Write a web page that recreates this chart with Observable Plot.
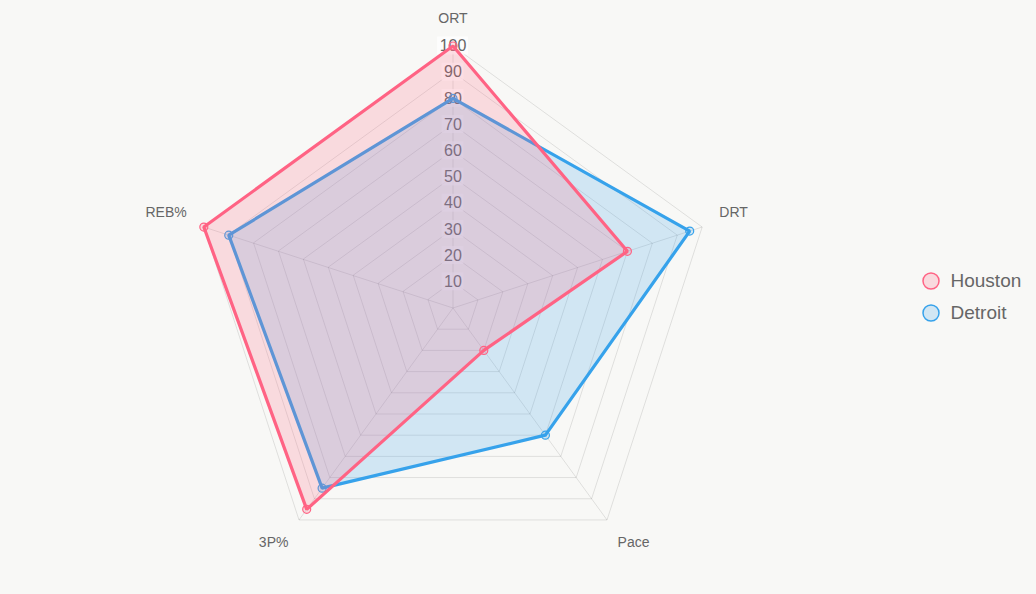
<!DOCTYPE html>
<html>
<head>
<meta charset="utf-8">
<script src="https://cdn.jsdelivr.net/npm/d3@7"></script>
<script src="https://cdn.jsdelivr.net/npm/@observablehq/plot@0.6"></script>
<style>
  html, body { margin: 0; padding: 0; background: #f8f8f6; }
  #chart svg { display: block; background: #f8f8f6; }
</style>
</head>
<body>
<div id="chart"></div>
<script>
const categories = ["ORT", "DRT", "Pace", "3P%", "REB%"];
const houston = [100, 70, 20, 95, 100];
const detroit = [80, 95, 60, 85, 90];
const tickValues = [10, 20, 30, 40, 50, 60, 70, 80, 90, 100];
const seriesNames = ["Houston", "Detroit"];

const W = 1036, H = 594;
const cx = 452.5, cy = 307.5;
const k = 2.62; // px per unit
const n = categories.length;
const ang = i => Math.PI / 2 - i * 2 * Math.PI / n;
const px = x => (x - cx) / k;
const py = y => (cy - y) / k;

const colors = {Houston: "rgb(255,99,132)", Detroit: "rgb(54,162,235)"};
const fills = {Houston: "rgba(255,99,132,0.2)", Detroit: "rgba(54,162,235,0.2)"};

// grid rings
const rings = [];
tickValues.forEach(t => categories.forEach((c, i) => rings.push({t, x: t * Math.cos(ang(i)), y: t * Math.sin(ang(i))})));
const spokes = categories.map((c, i) => ({c, x: 100 * Math.cos(ang(i)), y: 100 * Math.sin(ang(i))}));

const series = seriesNames.map(name => {
  const vals = name === "Houston" ? houston : detroit;
  return {name, pts: categories.map((c, i) => ({name, c, v: vals[i], x: vals[i] * Math.cos(ang(i)), y: vals[i] * Math.sin(ang(i))}))};
});

const labR = 280 / k;
const catLabels = categories.map((c, i) => {
  const a = ang(i);
  const cs = Math.cos(a), sn = Math.sin(a);
  return {c, x: labR * cs, y: labR * sn,
    anchor: Math.abs(cs) < 0.01 ? "middle" : (cs > 0 ? "start" : "end"),
    dy: sn > 0 ? -9 : 8};
});

const tickBox = tickValues.map(t => {
  const w = (String(t).length * 8.9 + 4) / 2 / k;
  return {t, x1: -w, x2: w, y1: t - 9 / k, y2: t + 9 / k};
});

const marks = [
  Plot.line(rings, {x: "x", y: "y", z: "t", curve: "linear-closed", stroke: "#000", strokeOpacity: 0.1, strokeWidth: 1}),
  Plot.link(spokes, {x1: 0, y1: 0, x2: "x", y2: "y", stroke: "#000", strokeOpacity: 0.1, strokeWidth: 1}),
  Plot.rect(tickBox, {x1: "x1", x2: "x2", y1: "y1", y2: "y2", fill: "rgba(255,255,255,0.75)"}),
  Plot.text(tickValues, {x: 0, y: d => d, text: d => String(d), fill: "#666", fontSize: 16, lineAnchor: "middle"})
];

for (const an of ["start", "middle", "end"]) {
  for (const dy of [-9, 8]) {
    const sub = catLabels.filter(d => d.anchor === an && d.dy === dy);
    if (sub.length) marks.push(Plot.text(sub, {x: "x", y: "y", text: "c", textAnchor: an, dy, fill: "#666", fontSize: 14, lineAnchor: "middle"}));
  }
}

// draw Detroit first, Houston on top
for (const name of ["Detroit", "Houston"]) {
  const s = series.find(d => d.name === name);
  marks.push(Plot.line(s.pts, {x: "x", y: "y", curve: "linear-closed", fill: fills[name], stroke: colors[name], strokeWidth: 3.2, strokeLinejoin: "miter"}));
  marks.push(Plot.dot(s.pts, {x: "x", y: "y", r: 4, fill: fills[name], stroke: colors[name], strokeWidth: 1.2}));
}

// legend
const legend = seriesNames.map((name, i) => ({name, x: px(930.5), y: py(280.5 + i * 32), tx: px(950)}));
marks.push(Plot.dot(legend, {x: "x", y: "y", r: 8, fill: d => fills[d.name], stroke: d => colors[d.name], strokeWidth: 1.5}));
marks.push(Plot.text(legend, {x: "tx", y: "y", text: "name", textAnchor: "start", fill: "#666", fontSize: 19, lineAnchor: "middle"}));

const plot = Plot.plot({
  width: W, height: H,
  margin: 0,
  style: {background: "#f8f8f6", fontFamily: "'Liberation Sans', Arial, Helvetica, sans-serif"},
  x: {domain: [px(0), px(W)], axis: null},
  y: {domain: [py(H), py(0)], axis: null},
  marks
});
document.getElementById("chart").appendChild(plot);
</script>
</body>
</html>
